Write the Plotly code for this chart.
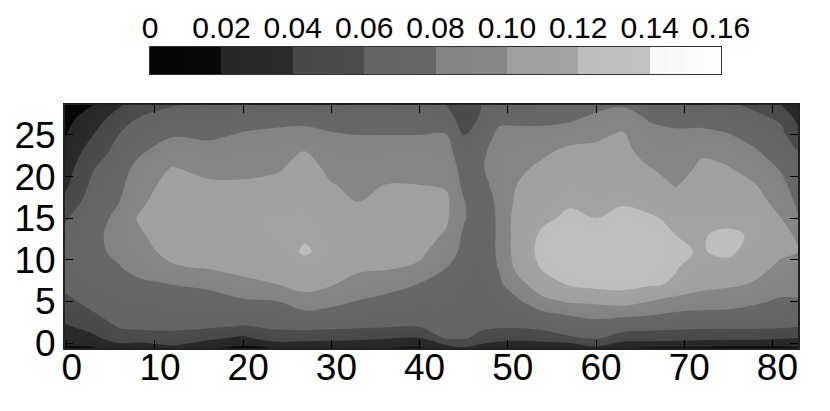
import plotly.graph_objects as go
import numpy as np

# grid, values in thousandths
x_vals = [-0.2, 3, 6, 8, 12, 16, 20, 24, 27, 30, 33, 36, 40, 43, 45, 47, 49, 51, 54, 57, 60, 63, 66, 69, 72, 75, 78, 81, 82.9]
y_vals = [-0.6, 0.6, 2, 3.5, 5, 7, 9, 11, 13, 15, 17, 19, 21, 23, 25, 27, 28.6]
z_milli = [
    [18, 18, 30, 26, 34, 22, 16, 20, 20, 20, 20, 20, 18, 30, 38, 30, 22, 20, 20, 22, 36, 18, 18, 18, 18, 16, 16, 16, 18],
    [30, 36, 50, 50, 55, 45, 36, 52, 50, 48, 45, 42, 40, 62, 62, 55, 50, 48, 52, 58, 62, 53, 50, 48, 46, 45, 45, 42, 40],
    [38, 47, 62, 64, 63, 63, 59, 63, 65, 64, 63, 62, 61, 66, 65, 63, 62, 62, 64, 68, 72, 67, 66, 65, 64, 64, 64, 63, 61],
    [47, 59, 66, 67, 67, 67, 68, 70, 76, 74, 72, 68, 66, 68, 66, 65, 66, 68, 76, 82, 86, 85, 82, 78, 76, 76, 75, 70, 70],
    [56, 65, 69, 70, 73, 73, 77, 80, 91, 85, 79, 75, 72, 71, 67, 66, 70, 76, 95, 102, 104, 108, 100, 92, 90, 87, 82, 78, 79],
    [64, 70, 75, 76, 80, 83, 96, 100, 107, 101, 93, 87, 79, 75, 70, 67, 76, 92, 112, 121, 125, 126, 122, 118, 106, 103, 98, 86, 84],
    [68, 74, 79, 85, 98, 101, 104, 108, 114, 109, 103, 102, 97, 80, 72, 68, 81, 104, 122, 128, 130, 132, 129, 121, 113, 113, 106, 96, 91],
    [67, 76, 84, 94, 105, 108, 110, 113, 122, 114, 109, 108, 104, 90, 75, 68, 83, 108, 126, 132, 133, 135, 132, 122, 119, 124, 112, 103, 100],
    [64, 76, 86, 97, 110, 112, 114, 116, 118, 114, 110, 110, 108, 98, 77, 68, 83, 108, 123, 130, 127, 133, 130, 120, 119, 123, 118, 104, 98],
    [58, 74, 84, 101, 112, 113, 114, 116, 116, 111, 106, 108, 108, 103, 82, 68, 83, 108, 117, 123, 120, 128, 122, 117, 116, 115, 118, 100, 82],
    [45, 71, 80, 95, 112, 110, 110, 112, 114, 106, 100, 106, 106, 104, 81, 70, 84, 104, 113, 118, 116, 117, 115, 106, 112, 111, 108, 92, 76],
    [36, 65, 76, 90, 108, 103, 102, 106, 112, 101, 96, 100, 100, 98, 76, 74, 87, 100, 110, 115, 113, 113, 109, 99, 107, 106, 101, 85, 71],
    [31, 59, 72, 85, 101, 95, 96, 98, 108, 95, 92, 95, 96, 94, 72, 78, 90, 96, 104, 110, 109, 110, 101, 93, 103, 101, 92, 78, 66],
    [25, 50, 67, 76, 92, 88, 90, 92, 101, 90, 87, 89, 90, 87, 68, 76, 89, 92, 97, 104, 104, 106, 92, 89, 98, 93, 82, 71, 60],
    [19, 40, 61, 69, 78, 76, 82, 85, 86, 82, 80, 80, 80, 81, 59, 70, 84, 85, 85, 93, 97, 102, 88, 84, 85, 81, 74, 65, 46],
    [14, 30, 50, 60, 68, 68, 72, 74, 75, 72, 72, 72, 72, 68, 52, 62, 76, 76, 76, 76, 85, 92, 78, 74, 73, 71, 65, 57, 34],
    [8, 20, 38, 50, 59, 62, 64, 66, 67, 66, 64, 64, 64, 60, 46, 60, 66, 68, 70, 70, 74, 78, 70, 66, 65, 63, 56, 40, 22],
]
bar_ticks = [0, 0.02, 0.04, 0.06, 0.08, 0.10, 0.12, 0.14, 0.16]
bar_labels = ["0", "0.02", "0.04", "0.06", "0.08", "0.10", "0.12", "0.14", "0.16"]
bar_levels = [0.0025, 0.0075, 0.0125, 0.0175, 0.0225, 0.0275, 0.0325, 0.0375,
              0.0425, 0.0475, 0.0525, 0.0575, 0.0625, 0.0675, 0.0725, 0.0775,
              0.0825, 0.0875, 0.0925, 0.0975, 0.1025, 0.1075, 0.1125, 0.1175,
              0.1225, 0.1275, 0.1325, 0.1375, 0.1425, 0.1475, 0.1525, 0.1575]
band_greys = [(3, 7), (38, 42), (72, 76), (100, 103), (130, 134), (160, 163), (190, 193), (246, 255)]

colorscale = []
for i, (lo, hi) in enumerate(band_greys):
    colorscale.append([i / 8, f"rgb({lo},{lo},{lo})"])
    colorscale.append([(i + 1) / 8, f"rgb({hi},{hi},{hi})"])

fig = go.Figure()
fig.add_trace(go.Contour(
    x=x_vals, y=y_vals, z=np.array(z_milli) / 1000,
    zmin=0, zmax=0.16,
    autocontour=False,
    contours=dict(start=0, end=0.16, size=0.005, coloring="fill", showlines=False),
    line_width=0,
    colorscale=colorscale,
    showscale=False,
))
# colour key drawn as its own little axes, labels above and ticks inside below
fig.add_trace(go.Heatmap(
    x=bar_levels, y=[0, 1], z=[bar_levels, bar_levels],
    zmin=0, zmax=0.16, colorscale=colorscale, showscale=False,
    xaxis="x2", yaxis="y2",
))

axis_style = dict(
    ticks="inside", ticklen=8, tickwidth=1, tickcolor="black",
    showline=True, linecolor="#222222", linewidth=2, mirror="ticks",
    showgrid=False, zeroline=False,
    tickfont=dict(size=37, color="black"),
)

# domains are 8px up and left of the target because the page body has a margin
fig.update_layout(
    width=830, height=411,
    margin=dict(l=0, r=0, t=0, b=0, autoexpand=False),
    paper_bgcolor="white", plot_bgcolor="white",
    font=dict(family="Liberation Sans"),
    xaxis=dict(domain=[57 / 830, 790 / 830], range=[-0.2, 82.9], tickmode="array",
               tickvals=list(range(0, 90, 10)), ticklabelshift=5, ticklabelstandoff=-14, **axis_style),
    yaxis=dict(domain=[71 / 411, 314 / 411], range=[-0.6, 28.6], tickmode="array",
               tickvals=list(range(0, 30, 5)), **axis_style),
    xaxis2=dict(domain=[142 / 830, 713 / 830], range=[0, 0.16], anchor="y2", side="top",
                tickmode="array", tickvals=bar_ticks, ticktext=bar_labels, ticks="",
                tickangle=0, ticklabelstandoff=-4, showline=True, linecolor="#333333", linewidth=1, mirror=True,
                showgrid=False, zeroline=False, tickfont=dict(size=30, color="black")),
    yaxis2=dict(domain=[345 / 411, 372 / 411], range=[0, 1], anchor="x2",
                showticklabels=False, ticks="", showgrid=False, zeroline=False,
                showline=True, linecolor="#333333", linewidth=1, mirror=True),
    xaxis3=dict(overlaying="x2", matches="x2", anchor="y2", side="bottom", tickmode="array",
                tickvals=bar_ticks[2:8], showticklabels=False, ticks="inside", ticklen=4,
                tickcolor="#222222", showgrid=False, zeroline=False, showline=False),
)

fig.write_html("out.html")
